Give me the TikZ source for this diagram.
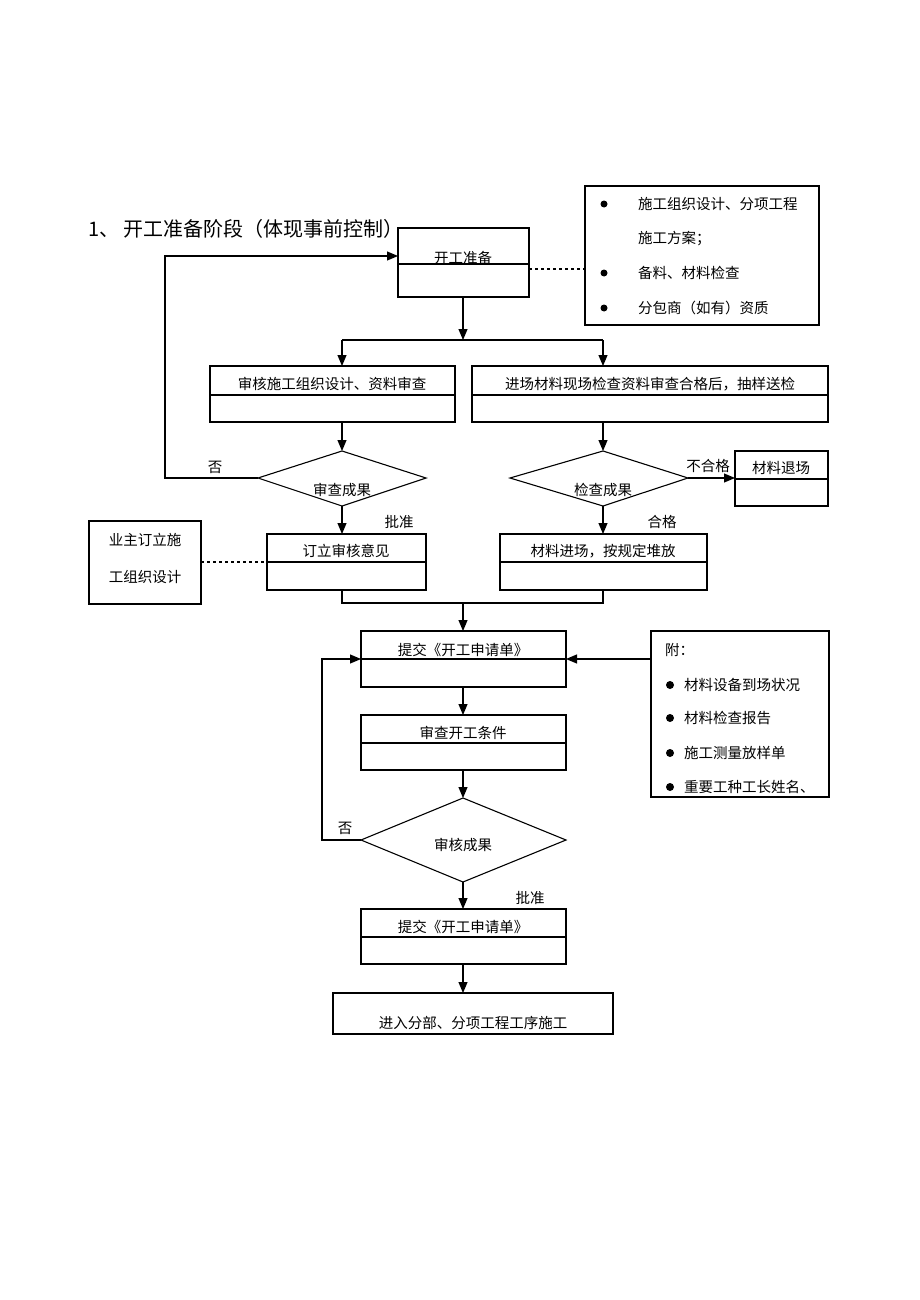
\documentclass[tikz,border=0pt]{standalone}
\usepackage{fontspec}
\setmainfont{Liberation Serif}
\newfontfamily\cjk{Noto Sans CJK SC}
\usetikzlibrary{arrows.meta}
\begin{document}
\begin{tikzpicture}[x=1pt,y=-1pt,
 line/.style={line width=1.1pt},
 arr/.style={line, -{Triangle[length=11pt,width=9pt]}},
 box/.style={draw,line width=1.1pt},
 t/.style={font=\cjk\fontsize{14.5}{16}\selectfont, inner sep=0pt},
 dot/.style={circle,fill=black,inner sep=0pt,minimum size=8pt}]
\useasboundingbox (0,0) rectangle (920,1300);
\node[t,font=\cjk\fontsize{20}{22}\selectfont,anchor=west] (title) at (88,229) {1、 开工准备阶段（体现事前控制）};
% box 开工准备
\draw[box,fill=white] (398,228) rectangle (529,297); \draw[line] (398,264)--(529,264);
\node[t] (kg) at (463,258) {开工准备};
\coordinate (kgT) at (463,297);
% right info box
\draw[box] (585,186) rectangle (819,325);
\foreach \y/\s/\b in {204/施工组织设计、分项工程/1,239/施工方案；/0,273/备料、材料检查/1,308/分包商（如有）资质/1}{
 \node[t,anchor=west] at (638,\y) {\s};
 \ifnum\b=1 \node[dot,minimum size=7pt] at (604,\y) {};\fi}
\coordinate (d1a) at (529,269); \coordinate (d1b) at (585,269);
\draw[line,dashed] (d1a)--(d1b);
% split
\coordinate (sp) at (463,340);
\draw[arr] (kgT)--(sp);
\draw[line] (342,340)--(603,340);
\draw[arr] (342,340)--(342,366);
\draw[arr] (603,340)--(603,366);
% box A, B
\draw[box] (210,366) rectangle (455,422); \draw[line] (210,395)--(455,395);
\node[t] (A) at (332,384) {审核施工组织设计、资料审查};
\draw[box] (472,366) rectangle (828,422); \draw[line] (472,395)--(828,395);
\node[t] (B) at (650,384) {进场材料现场检查资料审查合格后，抽样送检};
\draw[arr] (342,422)--(342,451);
\draw[arr] (603,422)--(603,451);
% diamonds
\draw[line] (258,478)--(342,451)--(426,478)--(342,506)--cycle;
\node[t] (D1) at (342,490) {审查成果};
\draw[line] (510,478)--(603,451)--(688,478)--(603,506)--cycle;
\node[t] (D2) at (603,490) {检查成果};
\draw[arr] (258,478)--(165,478)--(165,256)--(398,256);
\node[t] at (215,467) {否};
\draw[arr] (688,478)--(735,478);
\node[t] at (708,466) {不合格};
\draw[box] (735,451) rectangle (828,506); \draw[line] (735,479)--(828,479);
\node[t] (tc) at (781,468) {材料退场};
% second row
\draw[arr] (342,506)--(342,534);
\node[t] at (399,522) {批准};
\draw[box] (267,534) rectangle (426,590); \draw[line] (267,562)--(426,562);
\node[t] (dl) at (346,551) {订立审核意见};
\draw[arr] (603,506)--(603,534);
\node[t] at (662,522) {合格};
\draw[box] (500,534) rectangle (707,590); \draw[line] (500,562)--(707,562);
\node[t] (cl) at (603,551) {材料进场，按规定堆放};
\draw[box] (89,521) rectangle (201,604);
\node[t] at (145,540) {业主订立施};
\node[t] at (145,577) {工组织设计};
\draw[line,dashed] (201,562)--(267,562);
% merge
\draw[line] (342,590)--(342,603)--(603,603)--(603,590);
\draw[arr] (463,603)--(463,631);
% submit box
\draw[box] (361,631) rectangle (566,687); \draw[line] (361,659)--(566,659);
\node[t] (sub1) at (463,650) {提交《开工申请单》};
\draw[box] (651,631) rectangle (829,797);
\node[t,anchor=west] at (665,650) {附：};
\foreach \y/\s in {685/材料设备到场状况,718/材料检查报告,753/施工测量放样单,787/重要工种工长姓名、}{
 \node[dot] at (670,\y) {}; \node[t,anchor=west] at (684,\y) {\s};}
\draw[arr] (651,659)--(566,659);
\draw[arr] (463,687)--(463,715);
\draw[box] (361,715) rectangle (566,770); \draw[line] (361,743)--(566,743);
\node[t] (sc) at (463,733) {审查开工条件};
\draw[arr] (463,770)--(463,798);
\draw[line] (361,840)--(463,798)--(566,840)--(463,882)--cycle;
\node[t] (D3) at (463,845) {审核成果};
\draw[arr] (361,840)--(322,840)--(322,659)--(361,659);
\node[t] at (345,828) {否};
\draw[arr] (463,882)--(463,909);
\node[t] at (530,898) {批准};
\draw[box] (361,909) rectangle (566,964); \draw[line] (361,937)--(566,937);
\node[t] (sub2) at (463,927) {提交《开工申请单》};
\draw[arr] (463,964)--(463,993);
\draw[box] (333,993) rectangle (613,1034);
\node[t] (jr) at (473,1023) {进入分部、分项工程工序施工};
\end{tikzpicture}
\end{document}
